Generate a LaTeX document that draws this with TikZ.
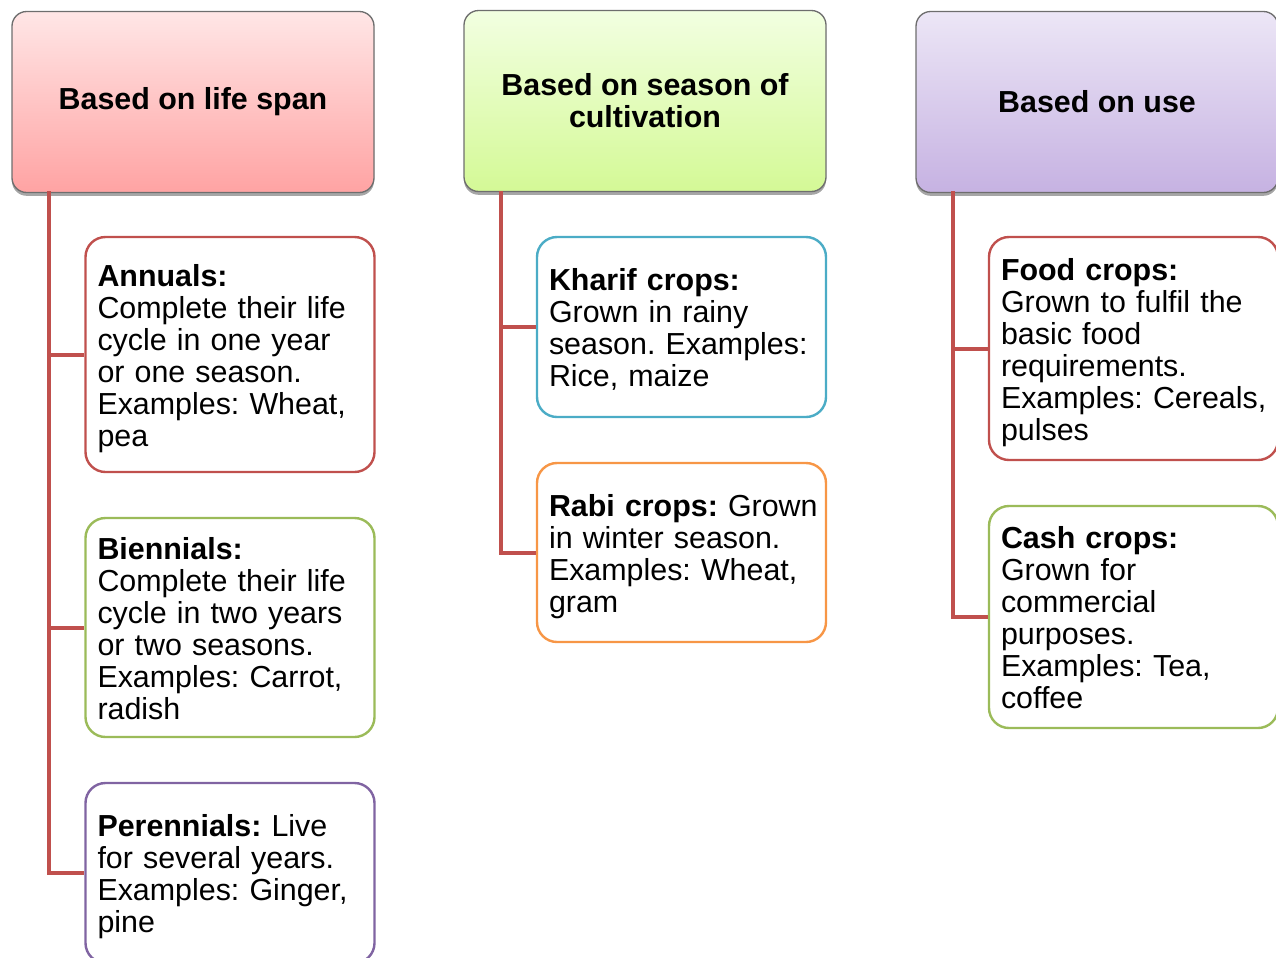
\documentclass[tikz,border=0pt]{standalone}
\usepackage{fontspec}
\setmainfont{Liberation Sans}
\usetikzlibrary{shadows,calc}
\definecolor{conred}{HTML}{C0504D}
\definecolor{bred}{HTML}{C0504D}
\definecolor{bgreen}{HTML}{9BBB59}
\definecolor{bpurple}{HTML}{8064A2}
\definecolor{bblue}{HTML}{4BACC6}
\definecolor{borange}{HTML}{F79646}
\definecolor{hdrborder}{HTML}{6E6E6E}
\newcommand{\leaftext}[1]{\raisebox{0pt}[\height][\dimexpr\depth-8pt\relax]{\begin{tabular}{@{}l@{}}#1\end{tabular}}}
\tikzset{
  txt/.style={font=\fontsize{22.8}{24}\selectfont\frenchspacing},
  hdr/.style={draw=hdrborder, line width=1pt, rounded corners=11pt,
    align=center, inner sep=0pt, minimum width={362*0.75pt}, minimum height={181*0.75pt},
    font=\fontsize{22.8}{24}\selectfont\bfseries\frenchspacing,
    drop shadow={shadow xshift=0pt, shadow yshift=-2.5pt, opacity=0.35, fill=black}},
  leaf/.style={txt, fill=white, line width=1.8pt, rounded corners=15pt,
    align=left, inner xsep=9pt, inner ysep=0pt,
    text width={(289-24)*0.75pt}, minimum height={#1*0.75pt}},
  conn/.style={draw=conred, line width=3pt},
}
\begin{document}
\begin{tikzpicture}[x=0.75pt,y=-0.75pt]
\useasboundingbox (0,0) rectangle (1276,957);
% headers
\node[hdr, top color={rgb,255:red,255;green,230;blue,230}, bottom color={rgb,255:red,255;green,163;blue,163}] (h1) at (193,102) {Based on life span};
\node[hdr, top color={rgb,255:red,242;green,255;blue,225}, bottom color={rgb,255:red,212;green,249;blue,150}] (h2) at (645,101) {Based on season of\\cultivation};
\node[hdr, top color={rgb,255:red,236;green,230;blue,246}, bottom color={rgb,255:red,198;green,178;blue,226}] (h3) at (1097,102) {Based on use};
% trunk start points
\coordinate (t1) at (49,191);
\coordinate (t2) at (501,191);
\coordinate (t3) at (953,191);
% leaves
\node[leaf=235, draw=bred] (ann) at (230,354.5) {\leaftext{\textbf{Annuals:}\\Complete their life\\cycle in one year\\or one season.\\Examples: Wheat,\\pea}};
\node[leaf=219, draw=bgreen] (bie) at (230,627.5) {\leaftext{\textbf{Biennials:}\\Complete their life\\cycle in two years\\or two seasons.\\Examples: Carrot,\\radish}};
\node[leaf=180, draw=bpurple] (per) at (230,873) {\leaftext{\textbf{Perennials:} Live\\for several years.\\Examples: Ginger,\\pine}};
\node[leaf=180, draw=bblue] (kha) at (681.5,327) {\leaftext{\textbf{Kharif crops:}\\Grown in rainy\\season. Examples:\\Rice, maize}};
\node[leaf=179, draw=borange] (rab) at (681.5,552.5) {\leaftext{\textbf{Rabi crops:} Grown\\in winter season.\\Examples: Wheat,\\gram}};
\node[leaf=223, draw=bred] (foo) at (1133.5,348.5) {\leaftext{\textbf{Food crops:}\\Grown to fulfil the\\basic food\\requirements.\\Examples: Cereals,\\pulses}};
\node[leaf=222, draw=bgreen] (cas) at (1133.5,617) {\leaftext{\textbf{Cash crops:}\\Grown for\\commercial\\purposes.\\Examples: Tea,\\coffee}};
% connectors
\draw[conn] (t1) |- (ann.west);
\draw[conn] (t1) |- (bie.west);
\draw[conn] (t1) |- (per.west);
\draw[conn] (t2) |- (kha.west);
\draw[conn] (t2) |- (rab.west);
\draw[conn] (t3) |- (foo.west);
\draw[conn] (t3) |- (cas.west);
\end{tikzpicture}
\end{document}
